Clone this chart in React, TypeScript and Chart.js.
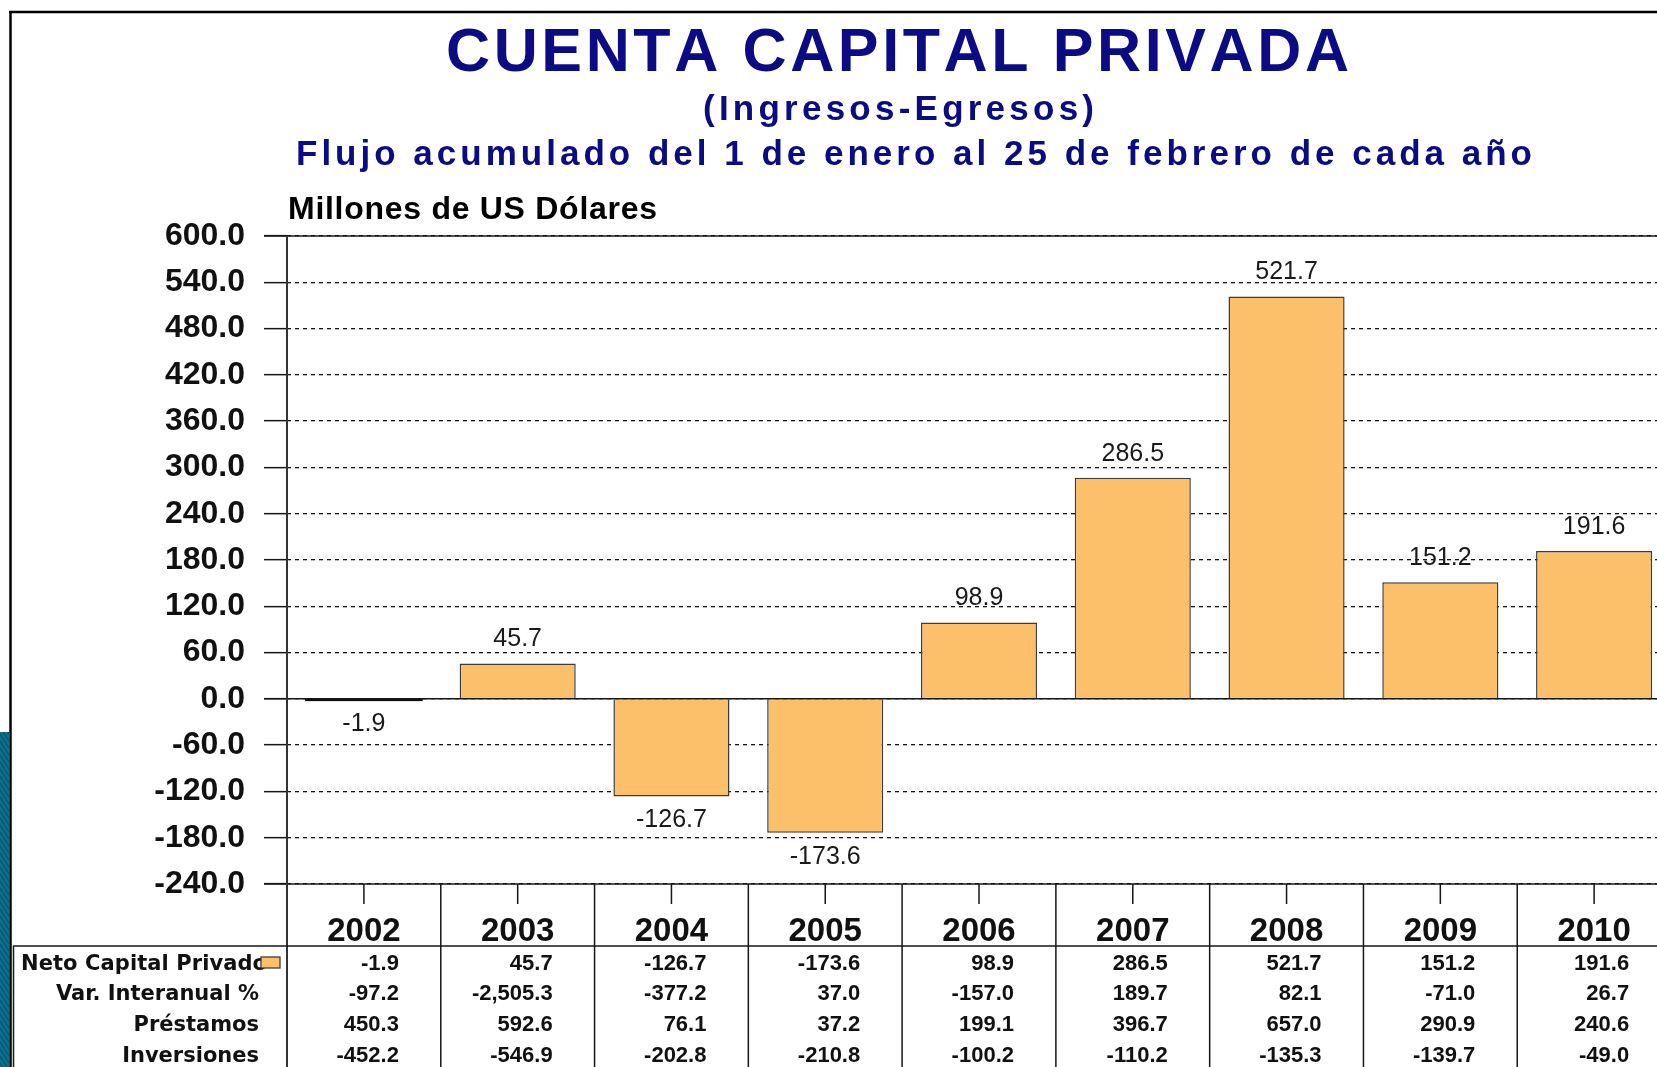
import { useEffect, useRef } from 'react';
import { Chart, registerables } from 'chart.js';

Chart.register(...registerables);

const CANVAS_W = 1700;
const CANVAS_H = 1067;

// ---------- data ----------
const years = ['2002', '2003', '2004', '2005', '2006', '2007', '2008', '2009', '2010'];
const netoCapital = [-1.9, 45.7, -126.7, -173.6, 98.9, 286.5, 521.7, 151.2, 191.6];
const varInteranual = [-97.2, -2505.3, -377.2, 37.0, -157.0, 189.7, 82.1, -71.0, 26.7];
const prestamos = [450.3, 592.6, 76.1, 37.2, 199.1, 396.7, 657.0, 290.9, 240.6];
const inversiones = [-452.2, -546.9, -202.8, -210.8, -100.2, -110.2, -135.3, -139.7, -49.0];
const rowLabels = ['Neto Capital Privado', 'Var. Interanual %', 'Préstamos', 'Inversiones'];
const yMin = -240;
const yMax = 600;
const yStep = 60;

const titleMain = 'CUENTA CAPITAL PRIVADA';
const titleSub1 = '(Ingresos-Egresos)';
const titleSub2 = 'Flujo acumulado del 1 de enero al 25 de febrero de cada año';
const unitLabel = 'Millones de US Dólares';

// ---------- styles ----------
const SANS = "'Liberation Sans', Arial, sans-serif";
const NAVY = '#0b0b84';
const BAR_FILL = '#FDC06A';
const BAR_EDGE = '#3c3c3c';
const LINE = '#161616';

function fmt(v: number) {
  return v.toLocaleString('en-US', { minimumFractionDigits: 1, maximumFractionDigits: 1 });
}

function drawFit(ctx: CanvasRenderingContext2D, text: string, left: number, baseline: number, width: number, font: string, color: string) {
  ctx.save();
  ctx.font = font;
  ctx.fillStyle = color;
  ctx.textAlign = 'left';
  ctx.textBaseline = 'alphabetic';
  const chars = Array.from(text);
  const widths = chars.map((c) => ctx.measureText(c).width);
  const total = widths.reduce((a, b) => a + b, 0);
  const sp = chars.length > 1 ? (width - total) / (chars.length - 1) : 0;
  let x = left;
  chars.forEach((c, i) => {
    ctx.fillText(c, x, baseline);
    x += widths[i] + sp;
  });
  ctx.restore();
}

function hLine(ctx: CanvasRenderingContext2D, x1: number, x2: number, y: number, w: number, color: string) {
  ctx.save();
  ctx.strokeStyle = color;
  ctx.lineWidth = w;
  ctx.setLineDash([]);
  ctx.beginPath();
  ctx.moveTo(x1, y);
  ctx.lineTo(x2, y);
  ctx.stroke();
  ctx.restore();
}

function vLine(ctx: CanvasRenderingContext2D, x: number, y1: number, y2: number, w: number, color: string) {
  ctx.save();
  ctx.strokeStyle = color;
  ctx.lineWidth = w;
  ctx.setLineDash([]);
  ctx.beginPath();
  ctx.moveTo(x, y1);
  ctx.lineTo(x, y2);
  ctx.stroke();
  ctx.restore();
}

const decorPlugin = {
  id: 'decor',
  afterDraw(chart: any) {
    const ctx: CanvasRenderingContext2D = chart.ctx;
    const xs = chart.scales.x;
    const ys = chart.scales.y;
    const area = chart.chartArea;
    const W = chart.width;
    const H = chart.height;
    const n = years.length;
    const cw = (area.right - area.left) / n;

    // teal slide background strip on the left
    ctx.save();
    ctx.beginPath();
    ctx.rect(0, 732, 9, H - 732);
    ctx.clip();
    ctx.fillStyle = '#0b6f8e';
    ctx.fillRect(0, 732, 9, H - 732);
    ctx.strokeStyle = '#07546d';
    ctx.lineWidth = 1.2;
    for (let y = 720; y < H + 20; y += 7) {
      ctx.beginPath();
      ctx.moveTo(0, y);
      ctx.lineTo(9, y + 14);
      ctx.stroke();
    }
    ctx.restore();

    // outer frame
    vLine(ctx, 10.5, 11, H, 2.5, '#000');
    hLine(ctx, 9, W, 12, 2.5, '#000');

    // titles
    drawFit(ctx, titleMain, 446, 71, 903, `bold 61px ${SANS}`, NAVY);
    drawFit(ctx, titleSub1, 703, 120, 391, `bold 35px ${SANS}`, NAVY);
    drawFit(ctx, titleSub2, 296, 165, 1236, `bold 35px ${SANS}`, NAVY);
    drawFit(ctx, unitLabel, 288, 219, 369, `bold 32px ${SANS}`, '#000');

    // thin dark outline for near-zero bars so they read as a thick line
    const meta = chart.getDatasetMeta(0);
    meta.data.forEach((bar: any) => {
      const p = bar.getProps(['x', 'y', 'base', 'width'], true);
      if (Math.abs(p.base - p.y) < 4) {
        ctx.save();
        ctx.strokeStyle = '#111';
        ctx.lineWidth = 1.6;
        ctx.strokeRect(p.x - p.width / 2, Math.min(p.y, p.base), p.width, Math.abs(p.base - p.y));
        ctx.restore();
      }
    });

    // solid reference lines: top, zero, bottom
    const yTop = ys.getPixelForValue(yMax);
    const yZero = ys.getPixelForValue(0);
    const yBot = ys.getPixelForValue(yMin);
    hLine(ctx, area.left - 23, W, yTop, 1.5, LINE);
    hLine(ctx, area.left - 23, W, yZero, 1.5, LINE);
    hLine(ctx, area.left - 23, W, yBot, 1.5, LINE);

    // y axis line through the table
    vLine(ctx, area.left, yTop, H, 2, '#333');

    // column boundaries of the data table
    for (let i = 1; i <= n; i++) {
      vLine(ctx, area.left + i * cw, yBot, H, 1.5, LINE);
    }
    // x tick marks
    for (let i = 0; i < n; i++) {
      const cx = xs.getPixelForValue(i);
      vLine(ctx, cx, yBot, yBot + 20, 1.5, LINE);
    }

    // table frame
    const headerY = 946;
    hLine(ctx, 13, W, headerY, 1.5, LINE);
    vLine(ctx, 13.5, headerY, H, 1.5, LINE);

    // year labels
    ctx.save();
    ctx.font = `bold 33px ${SANS}`;
    ctx.fillStyle = '#111';
    ctx.textAlign = 'center';
    ctx.textBaseline = 'alphabetic';
    years.forEach((yr, i) => ctx.fillText(yr, xs.getPixelForValue(i), 941));
    ctx.restore();

    // row labels
    const rowBase = [970, 1000, 1031, 1062];
    const rowFont = `bold 21px 'DejaVu Sans', Verdana, sans-serif`;
    drawFit(ctx, rowLabels[0], 21, rowBase[0], 246, rowFont, '#111');
    ctx.save();
    ctx.font = rowFont;
    ctx.fillStyle = '#111';
    ctx.textBaseline = 'alphabetic';
    ctx.textAlign = 'right';
    for (let r = 1; r < rowLabels.length; r++) ctx.fillText(rowLabels[r], 259, rowBase[r]);
    ctx.restore();

    // legend swatch
    ctx.save();
    ctx.fillStyle = BAR_FILL;
    ctx.fillRect(261, 957, 19, 11);
    ctx.strokeStyle = BAR_EDGE;
    ctx.lineWidth = 1.3;
    ctx.strokeRect(261, 957, 19, 11);
    ctx.restore();

    // table values
    const rows = [netoCapital, varInteranual, prestamos, inversiones];
    ctx.save();
    ctx.font = `bold 22px ${SANS}`;
    ctx.fillStyle = '#111';
    ctx.textAlign = 'right';
    ctx.textBaseline = 'alphabetic';
    rows.forEach((row, r) => {
      row.forEach((v, i) => {
        ctx.fillText(fmt(v), xs.getPixelForValue(i) + 35, rowBase[r]);
      });
    });
    ctx.restore();

    // data labels on bars
    ctx.save();
    ctx.font = `25px ${SANS}`;
    ctx.fillStyle = '#1a1a1a';
    ctx.textAlign = 'center';
    ctx.textBaseline = 'middle';
    meta.data.forEach((bar: any, i: number) => {
      const v = netoCapital[i];
      const yEnd = ys.getPixelForValue(v);
      const y = v >= 0 ? yEnd - 24 : Math.max(yEnd, yZero) + 24;
      ctx.fillText(fmt(v), bar.x, y);
    });
    ctx.restore();
  },
};

export default function App() {
  const ref = useRef<HTMLCanvasElement>(null);

  useEffect(() => {
    document.body.style.margin = '0';
    const canvas = ref.current;
    if (!canvas) return;
    const chart = new Chart(canvas, {
      type: 'bar',
      data: {
        labels: years,
        datasets: [
          {
            label: rowLabels[0],
            data: netoCapital,
            backgroundColor: BAR_FILL,
            borderColor: BAR_EDGE,
            borderWidth: 1.5,
            barPercentage: 0.755,
            categoryPercentage: 1,
          },
        ],
      },
      options: {
        responsive: false,
        animation: false,
        devicePixelRatio: 1,
        layout: { padding: { left: 0, top: 236, right: CANVAS_W - 1671, bottom: CANVAS_H - 884 } },
        plugins: {
          legend: { display: false },
          tooltip: { enabled: false },
          title: { display: false },
        },
        scales: {
          x: { display: false, offset: true },
          y: {
            min: yMin,
            max: yMax,
            afterFit: (s: any) => {
              s.width = 287;
            },
            ticks: {
              stepSize: yStep,
              autoSkip: false,
              callback: (v: any) => Number(v).toFixed(1),
              font: { family: SANS, weight: 'bold', size: 32 },
              color: '#111',
              padding: 19,
            },
            grid: {
              color: LINE,
              lineWidth: 1.3,
              tickLength: 23,
              tickColor: LINE,
              tickWidth: 1.5,
            },
            border: { display: false, dash: [4, 4] },
          },
        },
      },
      plugins: [decorPlugin],
    } as any);
    return () => chart.destroy();
  }, []);

  return (
    <div
      style={{
        position: 'fixed',
        left: 0,
        top: 0,
        width: 1657,
        height: 1067,
        overflow: 'hidden',
        background: '#fff',
      }}
    >
      <canvas ref={ref} width={CANVAS_W} height={CANVAS_H} style={{ display: 'block', width: CANVAS_W, height: CANVAS_H }} />
    </div>
  );
}
